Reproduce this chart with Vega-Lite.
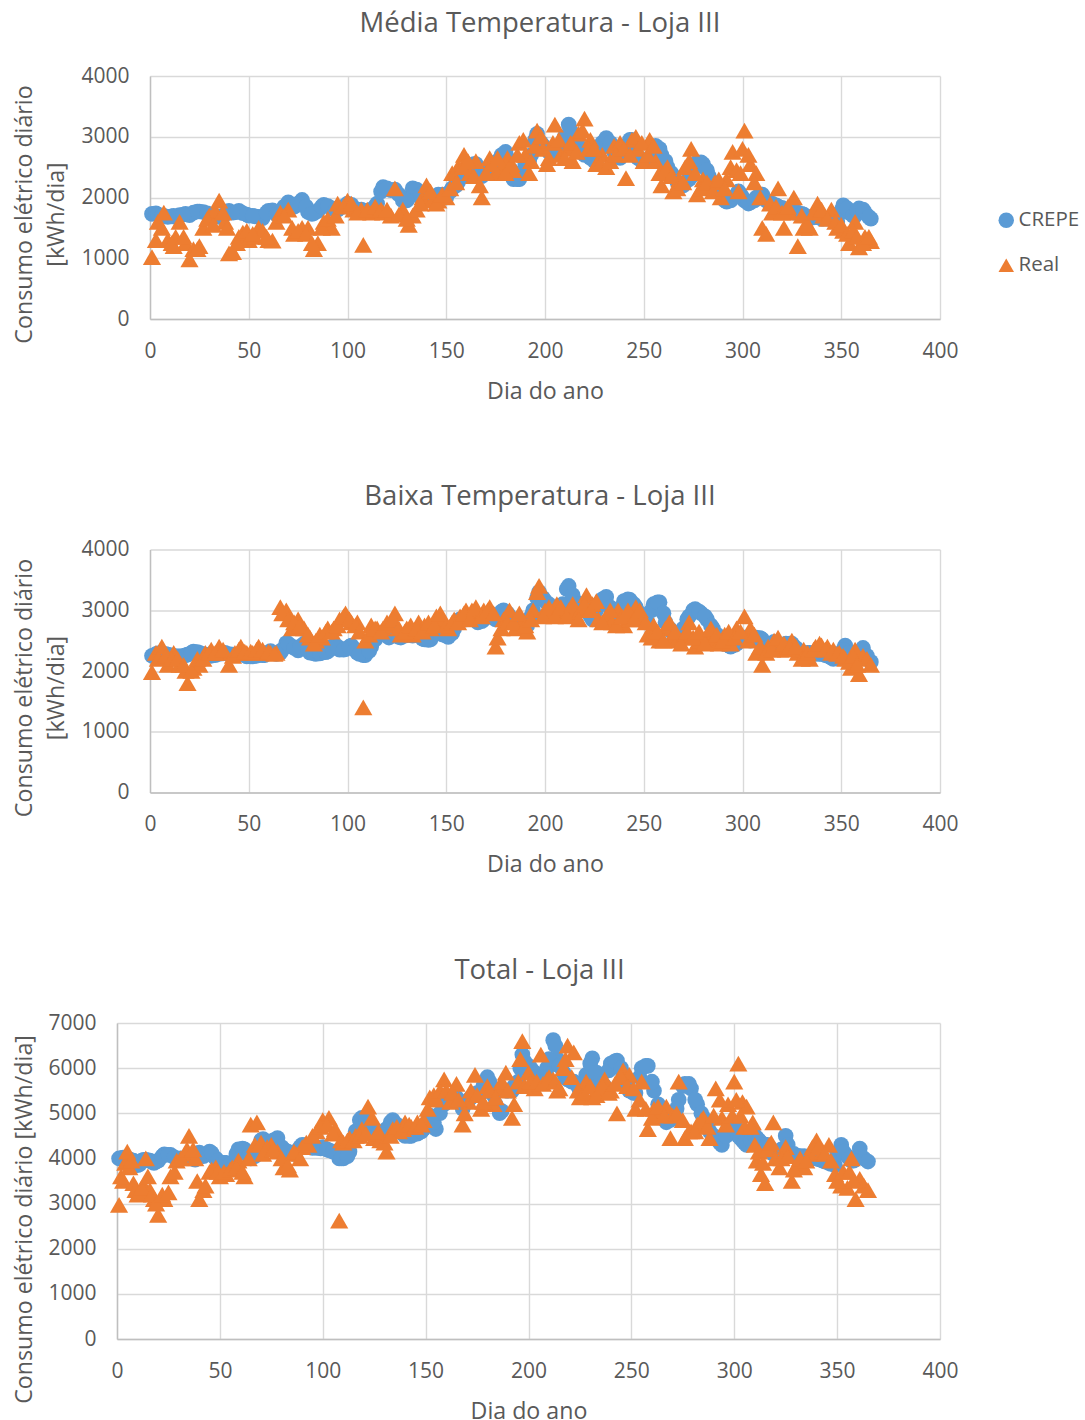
{"$schema":"https://vega.github.io/schema/vega-lite/v6.json","padding":{"left":11,"top":9,"right":0,"bottom":6},"background":"white","bounds":"flush","spacing":473.5,
"config":{"font":"Open Sans","view":{"stroke":null},"title":{"font":"Open Sans","fontSize":27.5,"fontWeight":"normal","color":"#595959"},
"axis":{"labelFont":"Open Sans","titleFont":"Open Sans","labelFontSize":21,"titleFontSize":23.2,"titleFontWeight":"normal","labelColor":"#595959","titleColor":"#595959","gridColor":"#D9D9D9","gridWidth":1.4,"domainColor":"#BFBFBF","domainWidth":1.4,"ticks":false,"labelPadding":21,"labelFlush":false,"format":"d"},
"legend":{"labelFont":"Open Sans","labelFontSize":20.5,"labelColor":"#595959","symbolStrokeWidth":0,"rowPadding":24,"labelOffset":2,"symbolSize":240}},
"datasets":{
"m":[{"d":1,"c":1730,"r":1020},{"d":3,"c":1740,"r":1300},{"d":4,"c":1720,"r":1600},{"d":7,"c":1700,"r":1750},{"d":9,"c":1680,"r":1300},{"d":12,"c":1700,"r":1200},{"d":13,"c":1680,"r":1350},{"d":15,"c":1710,"r":1600},{"d":18,"c":1730,"r":1250},{"d":20,"c":1710,"r":980},{"d":22,"c":1750,"r":1150},{"d":25,"c":1770,"r":1200},{"d":27,"c":1760,"r":1500},{"d":30,"c":1720,"r":1700},{"d":33,"c":1700,"r":1780},{"d":35,"c":1680,"r":1950},{"d":38,"c":1720,"r":1600},{"d":40,"c":1780,"r":1080},{"d":42,"c":1750,"r":1100},{"d":45,"c":1780,"r":1350},{"d":47,"c":1740,"r":1420},{"d":50,"c":1700,"r":1300},{"d":53,"c":1690,"r":1350},{"d":55,"c":1680,"r":1500},{"d":57,"c":1660,"r":1450},{"d":60,"c":1780,"r":1300},{"d":62,"c":1790,"r":1290},{"d":66,"c":1700,"r":1750},{"d":70,"c":1920,"r":1800},{"d":73,"c":1850,"r":1400},{"d":77,"c":1960,"r":1500},{"d":80,"c":1760,"r":1500},{"d":83,"c":1740,"r":1150},{"d":85,"c":1780,"r":1250},{"d":88,"c":1880,"r":1600},{"d":92,"c":1820,"r":1500},{"d":95,"c":1800,"r":1900},{"d":100,"c":1900,"r":1950},{"d":103,"c":1820,"r":1800},{"d":107,"c":1800,"r":1800},{"d":108,"c":1780,"r":1220},{"d":112,"c":1800,"r":1750},{"d":115,"c":1900,"r":1780},{"d":118,"c":2170,"r":1750},{"d":122,"c":2120,"r":1700},{"d":124,"c":2130,"r":2150},{"d":128,"c":1950,"r":1800},{"d":131,"c":2000,"r":1550},{"d":133,"c":2150,"r":1700},{"d":135,"c":2130,"r":1800},{"d":138,"c":1950,"r":2000},{"d":140,"c":1950,"r":2200},{"d":143,"c":1980,"r":1950},{"d":146,"c":2050,"r":1950},{"d":150,"c":2000,"r":2000},{"d":153,"c":2150,"r":2400},{"d":156,"c":2250,"r":2500},{"d":159,"c":2450,"r":2700},{"d":162,"c":2500,"r":2400},{"d":165,"c":2550,"r":2600},{"d":168,"c":2350,"r":2000},{"d":172,"c":2500,"r":2650},{"d":175,"c":2550,"r":2400},{"d":178,"c":2700,"r":2500},{"d":181,"c":2650,"r":2650},{"d":184,"c":2300,"r":2450},{"d":187,"c":2300,"r":2900},{"d":190,"c":2550,"r":2700},{"d":193,"c":2700,"r":2600},{"d":196,"c":3050,"r":3100},{"d":199,"c":2850,"r":2800},{"d":202,"c":2750,"r":2650},{"d":205,"c":2800,"r":3200},{"d":208,"c":2800,"r":2700},{"d":212,"c":3200,"r":2800},{"d":214,"c":2950,"r":2600},{"d":217,"c":2850,"r":3050},{"d":220,"c":2700,"r":3300},{"d":223,"c":2650,"r":2950},{"d":226,"c":2600,"r":2550},{"d":229,"c":2900,"r":2700},{"d":231,"c":2980,"r":2500},{"d":235,"c":2750,"r":2850},{"d":238,"c":2650,"r":2900},{"d":241,"c":2850,"r":2320},{"d":244,"c":2950,"r":2950},{"d":247,"c":2650,"r":2800},{"d":250,"c":2600,"r":2600},{"d":253,"c":2650,"r":2950},{"d":256,"c":2850,"r":2600},{"d":259,"c":2700,"r":2200},{"d":262,"c":2500,"r":2500},{"d":265,"c":2350,"r":2100},{"d":268,"c":2200,"r":2300},{"d":271,"c":2250,"r":2500},{"d":274,"c":2350,"r":2800},{"d":277,"c":2580,"r":2050},{"d":280,"c":2550,"r":2300},{"d":283,"c":2350,"r":2200},{"d":286,"c":2200,"r":2250},{"d":289,"c":2100,"r":2000},{"d":292,"c":1930,"r":2300},{"d":295,"c":2000,"r":2750},{"d":298,"c":2100,"r":2100},{"d":300,"c":2000,"r":2800},{"d":301,"c":1950,"r":3100},{"d":304,"c":1920,"r":2550},{"d":307,"c":2000,"r":2400},{"d":310,"c":2050,"r":1500},{"d":312,"c":1950,"r":1400},{"d":315,"c":1900,"r":1750},{"d":318,"c":1850,"r":2150},{"d":321,"c":1800,"r":1500},{"d":324,"c":1770,"r":1750},{"d":326,"c":1750,"r":2000},{"d":328,"c":1750,"r":1200},{"d":331,"c":1720,"r":1500},{"d":334,"c":1660,"r":1500},{"d":338,"c":1680,"r":1900},{"d":341,"c":1650,"r":1700},{"d":345,"c":1650,"r":1800},{"d":348,"c":1600,"r":1500},{"d":351,"c":1870,"r":1450},{"d":354,"c":1750,"r":1250},{"d":357,"c":1700,"r":1600},{"d":359,"c":1820,"r":1180},{"d":362,"c":1750,"r":1350},{"d":365,"c":1650,"r":1280},
{"d":6,"c":1700,"r":1500},{"d":11,"c":1690,"r":1250},{"d":17,"c":1720,"r":1350},{"d":24,"c":1770,"r":1150},{"d":29,"c":1740,"r":1650},{"d":32,"c":1700,"r":1550},{"d":37,"c":1700,"r":1750},{"d":39,"c":1750,"r":1500},{"d":44,"c":1760,"r":1250},{"d":49,"c":1720,"r":1450},{"d":52,"c":1700,"r":1400},{"d":59,"c":1750,"r":1350},{"d":64,"c":1720,"r":1600},{"d":68,"c":1850,"r":1700},{"d":72,"c":1880,"r":1500},{"d":75,"c":1900,"r":1450},{"d":79,"c":1850,"r":1400},{"d":82,"c":1730,"r":1250},{"d":87,"c":1850,"r":1500},{"d":90,"c":1860,"r":1650},{"d":94,"c":1800,"r":1700},{"d":98,"c":1850,"r":1850},{"d":102,"c":1880,"r":1900},{"d":105,"c":1800,"r":1750},{"d":110,"c":1780,"r":1800},{"d":114,"c":1850,"r":1850},{"d":117,"c":2100,"r":1800},{"d":120,"c":2150,"r":1800},{"d":126,"c":2050,"r":1720},{"d":130,"c":1950,"r":1650},{"d":137,"c":2050,"r":1900},{"d":142,"c":1950,"r":2100},{"d":145,"c":2000,"r":1900},{"d":148,"c":2050,"r":2050},{"d":152,"c":2100,"r":2150},{"d":155,"c":2200,"r":2250},{"d":158,"c":2350,"r":2500},{"d":161,"c":2480,"r":2600},{"d":164,"c":2550,"r":2350},{"d":167,"c":2450,"r":2200},{"d":170,"c":2400,"r":2400},{"d":173,"c":2500,"r":2550},{"d":176,"c":2600,"r":2650},{"d":180,"c":2750,"r":2400},{"d":183,"c":2450,"r":2550},{"d":186,"c":2300,"r":2700},{"d":189,"c":2400,"r":2950},{"d":192,"c":2600,"r":2400},{"d":195,"c":2950,"r":2850},{"d":198,"c":2900,"r":3000},{"d":201,"c":2800,"r":2550},{"d":204,"c":2750,"r":2900},{"d":207,"c":2800,"r":2950},{"d":210,"c":3000,"r":2650},{"d":213,"c":3100,"r":2900},{"d":216,"c":2900,"r":2750},{"d":219,"c":2750,"r":3100},{"d":222,"c":2700,"r":2800},{"d":225,"c":2600,"r":2800},{"d":228,"c":2800,"r":2550},{"d":233,"c":2900,"r":2600},{"d":236,"c":2700,"r":2700},{"d":240,"c":2800,"r":2800},{"d":243,"c":2950,"r":2700},{"d":246,"c":2750,"r":3000},{"d":249,"c":2600,"r":2900},{"d":252,"c":2600,"r":2700},{"d":255,"c":2800,"r":2850},{"d":258,"c":2800,"r":2400},{"d":261,"c":2600,"r":2450},{"d":264,"c":2400,"r":2350},{"d":267,"c":2250,"r":2150},{"d":270,"c":2200,"r":2250},{"d":273,"c":2300,"r":2600},{"d":276,"c":2500,"r":2400},{"d":279,"c":2580,"r":2150},{"d":282,"c":2450,"r":2250},{"d":285,"c":2250,"r":2100},{"d":288,"c":2150,"r":2300},{"d":291,"c":1950,"r":2150},{"d":294,"c":1950,"r":2500},{"d":297,"c":2050,"r":2450},{"d":299,"c":2050,"r":2400},{"d":303,"c":1900,"r":2700},{"d":306,"c":1950,"r":2250},{"d":309,"c":2050,"r":2000},{"d":314,"c":1900,"r":1900},{"d":317,"c":1870,"r":1850},{"d":320,"c":1830,"r":1750},{"d":323,"c":1780,"r":1850},{"d":330,"c":1730,"r":1700},{"d":333,"c":1680,"r":1550},{"d":336,"c":1670,"r":1750},{"d":340,"c":1650,"r":1800},{"d":343,"c":1650,"r":1650},{"d":347,"c":1620,"r":1600},{"d":350,"c":1780,"r":1550},{"d":353,"c":1820,"r":1400},{"d":356,"c":1700,"r":1450},{"d":358,"c":1780,"r":1350},{"d":361,"c":1800,"r":1250},{"d":364,"c":1680,"r":1350}],
"b":[{"d":1,"c":2250,"r":1980},{"d":3,"c":2280,"r":2300},{"d":6,"c":2300,"r":2400},{"d":9,"c":2270,"r":2100},{"d":12,"c":2250,"r":2300},{"d":15,"c":2240,"r":2100},{"d":18,"c":2260,"r":2000},{"d":19,"c":2270,"r":1800},{"d":22,"c":2320,"r":2050},{"d":25,"c":2300,"r":2100},{"d":28,"c":2270,"r":2300},{"d":31,"c":2250,"r":2350},{"d":35,"c":2280,"r":2400},{"d":38,"c":2300,"r":2300},{"d":40,"c":2280,"r":2100},{"d":43,"c":2260,"r":2300},{"d":46,"c":2280,"r":2400},{"d":49,"c":2240,"r":2300},{"d":52,"c":2240,"r":2300},{"d":55,"c":2260,"r":2400},{"d":58,"c":2260,"r":2300},{"d":61,"c":2330,"r":2300},{"d":64,"c":2280,"r":2300},{"d":66,"c":2300,"r":3050},{"d":69,"c":2460,"r":3000},{"d":72,"c":2400,"r":2700},{"d":75,"c":2340,"r":2850},{"d":78,"c":2450,"r":2700},{"d":81,"c":2300,"r":2550},{"d":84,"c":2280,"r":2500},{"d":87,"c":2300,"r":2550},{"d":90,"c":2320,"r":2700},{"d":93,"c":2420,"r":2700},{"d":96,"c":2350,"r":2850},{"d":99,"c":2360,"r":2950},{"d":102,"c":2420,"r":2800},{"d":105,"c":2300,"r":2800},{"d":108,"c":2260,"r":1400},{"d":109,"c":2260,"r":2500},{"d":112,"c":2400,"r":2750},{"d":115,"c":2600,"r":2700},{"d":118,"c":2620,"r":2700},{"d":121,"c":2550,"r":2750},{"d":124,"c":2600,"r":2950},{"d":127,"c":2550,"r":2600},{"d":130,"c":2600,"r":2700},{"d":133,"c":2580,"r":2600},{"d":136,"c":2600,"r":2800},{"d":139,"c":2520,"r":2750},{"d":142,"c":2520,"r":2700},{"d":145,"c":2650,"r":2900},{"d":148,"c":2600,"r":2800},{"d":151,"c":2560,"r":2700},{"d":154,"c":2700,"r":2850},{"d":157,"c":2850,"r":2900},{"d":160,"c":2850,"r":3000},{"d":163,"c":2900,"r":3000},{"d":166,"c":2800,"r":2950},{"d":169,"c":2850,"r":3000},{"d":172,"c":2950,"r":3050},{"d":175,"c":2850,"r":2400},{"d":176,"c":2900,"r":2550},{"d":179,"c":3000,"r":2850},{"d":182,"c":2900,"r":3000},{"d":185,"c":2800,"r":2700},{"d":188,"c":2800,"r":2800},{"d":191,"c":2750,"r":2650},{"d":194,"c":3000,"r":3000},{"d":197,"c":3300,"r":3400},{"d":200,"c":3150,"r":3000},{"d":203,"c":3050,"r":2950},{"d":206,"c":2950,"r":3100},{"d":209,"c":3100,"r":2950},{"d":212,"c":3400,"r":3000},{"d":215,"c":3150,"r":2950},{"d":218,"c":3100,"r":3000},{"d":221,"c":3000,"r":3250},{"d":224,"c":2850,"r":3100},{"d":227,"c":3100,"r":2850},{"d":231,"c":3220,"r":2900},{"d":234,"c":2950,"r":2800},{"d":237,"c":2900,"r":3000},{"d":240,"c":3150,"r":2750},{"d":243,"c":3170,"r":2850},{"d":246,"c":3050,"r":3050},{"d":249,"c":2850,"r":2900},{"d":252,"c":2800,"r":2600},{"d":255,"c":3100,"r":2750},{"d":258,"c":3130,"r":2500},{"d":261,"c":2800,"r":2700},{"d":264,"c":2650,"r":2550},{"d":267,"c":2550,"r":2500},{"d":270,"c":2700,"r":2550},{"d":273,"c":2900,"r":2800},{"d":276,"c":3020,"r":2400},{"d":279,"c":2950,"r":2500},{"d":282,"c":2850,"r":2600},{"d":285,"c":2700,"r":2500},{"d":288,"c":2500,"r":2450},{"d":291,"c":2450,"r":2600},{"d":294,"c":2400,"r":2450},{"d":297,"c":2450,"r":2700},{"d":301,"c":2550,"r":2900},{"d":304,"c":2500,"r":2700},{"d":307,"c":2550,"r":2300},{"d":310,"c":2520,"r":2100},{"d":313,"c":2400,"r":2400},{"d":316,"c":2480,"r":2500},{"d":319,"c":2400,"r":2350},{"d":322,"c":2450,"r":2350},{"d":325,"c":2450,"r":2500},{"d":328,"c":2350,"r":2300},{"d":331,"c":2300,"r":2350},{"d":334,"c":2300,"r":2200},{"d":337,"c":2280,"r":2400},{"d":340,"c":2280,"r":2420},{"d":343,"c":2250,"r":2400},{"d":346,"c":2200,"r":2350},{"d":349,"c":2250,"r":2300},{"d":352,"c":2420,"r":2200},{"d":355,"c":2250,"r":2050},{"d":357,"c":2200,"r":2350},{"d":359,"c":2300,"r":1950},{"d":361,"c":2380,"r":2250},{"d":363,"c":2250,"r":2200},{"d":365,"c":2150,"r":2100},
{"d":4,"c":2290,"r":2200},{"d":8,"c":2280,"r":2250},{"d":11,"c":2260,"r":2200},{"d":14,"c":2240,"r":2200},{"d":17,"c":2250,"r":2100},{"d":21,"c":2300,"r":2000},{"d":24,"c":2310,"r":2200},{"d":27,"c":2280,"r":2200},{"d":30,"c":2260,"r":2300},{"d":33,"c":2260,"r":2300},{"d":37,"c":2290,"r":2350},{"d":42,"c":2270,"r":2250},{"d":45,"c":2270,"r":2350},{"d":48,"c":2260,"r":2320},{"d":51,"c":2240,"r":2320},{"d":54,"c":2250,"r":2350},{"d":57,"c":2260,"r":2350},{"d":60,"c":2300,"r":2320},{"d":63,"c":2300,"r":2280},{"d":67,"c":2350,"r":2950},{"d":70,"c":2450,"r":2850},{"d":73,"c":2380,"r":2800},{"d":76,"c":2400,"r":2750},{"d":80,"c":2350,"r":2600},{"d":83,"c":2290,"r":2450},{"d":86,"c":2290,"r":2600},{"d":89,"c":2310,"r":2650},{"d":92,"c":2380,"r":2650},{"d":95,"c":2400,"r":2750},{"d":98,"c":2350,"r":2900},{"d":101,"c":2400,"r":2850},{"d":104,"c":2350,"r":2750},{"d":106,"c":2280,"r":2650},{"d":111,"c":2330,"r":2600},{"d":114,"c":2520,"r":2700},{"d":117,"c":2620,"r":2650},{"d":120,"c":2580,"r":2800},{"d":123,"c":2580,"r":2850},{"d":126,"c":2560,"r":2700},{"d":129,"c":2580,"r":2650},{"d":132,"c":2590,"r":2750},{"d":135,"c":2590,"r":2700},{"d":138,"c":2530,"r":2650},{"d":141,"c":2510,"r":2800},{"d":144,"c":2600,"r":2750},{"d":147,"c":2630,"r":2950},{"d":150,"c":2580,"r":2750},{"d":153,"c":2620,"r":2800},{"d":156,"c":2800,"r":2800},{"d":159,"c":2850,"r":2950},{"d":162,"c":2880,"r":2850},{"d":165,"c":2850,"r":3050},{"d":168,"c":2820,"r":2900},{"d":171,"c":2900,"r":3000},{"d":174,"c":2880,"r":2950},{"d":178,"c":2980,"r":2700},{"d":181,"c":2950,"r":2800},{"d":184,"c":2850,"r":2800},{"d":187,"c":2780,"r":2950},{"d":190,"c":2780,"r":2750},{"d":193,"c":2900,"r":2850},{"d":196,"c":3200,"r":3300},{"d":199,"c":3200,"r":2900},{"d":202,"c":3100,"r":3050},{"d":205,"c":3000,"r":2900},{"d":208,"c":3050,"r":3050},{"d":211,"c":3350,"r":2900},{"d":214,"c":3250,"r":3100},{"d":217,"c":3100,"r":2850},{"d":220,"c":3050,"r":3100},{"d":223,"c":2900,"r":3000},{"d":226,"c":3000,"r":3150},{"d":229,"c":3180,"r":2800},{"d":233,"c":3050,"r":3000},{"d":236,"c":2900,"r":2750},{"d":239,"c":3050,"r":2900},{"d":242,"c":3180,"r":3000},{"d":245,"c":3100,"r":2850},{"d":248,"c":2950,"r":3000},{"d":251,"c":2800,"r":2800},{"d":254,"c":3000,"r":2550},{"d":257,"c":3130,"r":2650},{"d":260,"c":2950,"r":2500},{"d":263,"c":2700,"r":2800},{"d":266,"c":2600,"r":2650},{"d":269,"c":2600,"r":2450},{"d":272,"c":2850,"r":2650},{"d":275,"c":3000,"r":2550},{"d":278,"c":2980,"r":2650},{"d":281,"c":2900,"r":2450},{"d":284,"c":2750,"r":2700},{"d":287,"c":2600,"r":2600},{"d":290,"c":2450,"r":2500},{"d":293,"c":2420,"r":2650},{"d":296,"c":2430,"r":2550},{"d":299,"c":2500,"r":2650},{"d":303,"c":2520,"r":2500},{"d":306,"c":2530,"r":2600},{"d":309,"c":2540,"r":2400},{"d":312,"c":2450,"r":2300},{"d":315,"c":2450,"r":2350},{"d":318,"c":2430,"r":2550},{"d":321,"c":2420,"r":2450},{"d":324,"c":2450,"r":2400},{"d":327,"c":2380,"r":2400},{"d":330,"c":2300,"r":2200},{"d":333,"c":2300,"r":2300},{"d":336,"c":2290,"r":2350},{"d":339,"c":2280,"r":2450},{"d":342,"c":2260,"r":2350},{"d":345,"c":2220,"r":2300},{"d":348,"c":2230,"r":2280},{"d":351,"c":2350,"r":2250},{"d":354,"c":2300,"r":2150},{"d":356,"c":2220,"r":2250},{"d":358,"c":2250,"r":2100}],
"t":[{"d":1,"c":4000,"r":2970},{"d":3,"c":4020,"r":3500},{"d":4,"c":3980,"r":3900},{"d":5,"c":4000,"r":4150},{"d":8,"c":3950,"r":3450},{"d":10,"c":3850,"r":3200},{"d":13,"c":3970,"r":3400},{"d":14,"c":3970,"r":4000},{"d":16,"c":3950,"r":3300},{"d":18,"c":3900,"r":3100},{"d":20,"c":3950,"r":2750},{"d":23,"c":4090,"r":3100},{"d":26,"c":4080,"r":3600},{"d":29,"c":4000,"r":3950},{"d":33,"c":4000,"r":4100},{"d":35,"c":4030,"r":4500},{"d":38,"c":3970,"r":4000},{"d":40,"c":4130,"r":3100},{"d":42,"c":4050,"r":3300},{"d":45,"c":4150,"r":3700},{"d":48,"c":4000,"r":3800},{"d":50,"c":3900,"r":3600},{"d":53,"c":3900,"r":3650},{"d":56,"c":3850,"r":3800},{"d":59,"c":4200,"r":3950},{"d":62,"c":4200,"r":3600},{"d":65,"c":4000,"r":4750},{"d":68,"c":4100,"r":4800},{"d":71,"c":4430,"r":4100},{"d":75,"c":4300,"r":4300},{"d":78,"c":4450,"r":4150},{"d":81,"c":4200,"r":3800},{"d":84,"c":4130,"r":3750},{"d":87,"c":4150,"r":4100},{"d":90,"c":4300,"r":4250},{"d":93,"c":4250,"r":4300},{"d":97,"c":4230,"r":4600},{"d":100,"c":4250,"r":4850},{"d":103,"c":4180,"r":4900},{"d":106,"c":4150,"r":4650},{"d":108,"c":4000,"r":2620},{"d":110,"c":4000,"r":4350},{"d":113,"c":4150,"r":4450},{"d":116,"c":4600,"r":4500},{"d":119,"c":4900,"r":4650},{"d":122,"c":4850,"r":5150},{"d":125,"c":4600,"r":4450},{"d":128,"c":4550,"r":4400},{"d":131,"c":4650,"r":4150},{"d":134,"c":4850,"r":4650},{"d":137,"c":4650,"r":4600},{"d":140,"c":4500,"r":4800},{"d":143,"c":4500,"r":4700},{"d":146,"c":4550,"r":4800},{"d":149,"c":4650,"r":4850},{"d":152,"c":4950,"r":5350},{"d":155,"c":4650,"r":5300},{"d":159,"c":5200,"r":5750},{"d":162,"c":5300,"r":5250},{"d":165,"c":5350,"r":5650},{"d":168,"c":5100,"r":4750},{"d":171,"c":5300,"r":5250},{"d":174,"c":5400,"r":5850},{"d":177,"c":5450,"r":5100},{"d":180,"c":5800,"r":5600},{"d":183,"c":5400,"r":5200},{"d":186,"c":5000,"r":5550},{"d":189,"c":5500,"r":5900},{"d":192,"c":5500,"r":4900},{"d":195,"c":5700,"r":5700},{"d":197,"c":6300,"r":6600},{"d":200,"c":6050,"r":5900},{"d":203,"c":5900,"r":5550},{"d":206,"c":5700,"r":6300},{"d":209,"c":6000,"r":5750},{"d":212,"c":6620,"r":5750},{"d":214,"c":6200,"r":5500},{"d":217,"c":5900,"r":6000},{"d":219,"c":5750,"r":6500},{"d":222,"c":5700,"r":6350},{"d":225,"c":5500,"r":5350},{"d":228,"c":5850,"r":5700},{"d":231,"c":6220,"r":5350},{"d":234,"c":5700,"r":5500},{"d":237,"c":5600,"r":5750},{"d":240,"c":6100,"r":5500},{"d":243,"c":6170,"r":5000},{"d":246,"c":5850,"r":5950},{"d":249,"c":5500,"r":5850},{"d":252,"c":5450,"r":5100},{"d":255,"c":6000,"r":5700},{"d":258,"c":6050,"r":4650},{"d":261,"c":5500,"r":5100},{"d":264,"c":5100,"r":5000},{"d":267,"c":4800,"r":5150},{"d":270,"c":4900,"r":4950},{"d":273,"c":5300,"r":5700},{"d":276,"c":5650,"r":4450},{"d":279,"c":5550,"r":4600},{"d":282,"c":5200,"r":4750},{"d":285,"c":4900,"r":4900},{"d":288,"c":4600,"r":4450},{"d":291,"c":4450,"r":5550},{"d":294,"c":4300,"r":4900},{"d":297,"c":4650,"r":5200},{"d":300,"c":4750,"r":5700},{"d":302,"c":4500,"r":6100},{"d":304,"c":4400,"r":5250},{"d":306,"c":4300,"r":5150},{"d":309,"c":4500,"r":4800},{"d":311,"c":4450,"r":3950},{"d":313,"c":4350,"r":3650},{"d":315,"c":4300,"r":3450},{"d":317,"c":4250,"r":4300},{"d":319,"c":4100,"r":4800},{"d":322,"c":4100,"r":3800},{"d":325,"c":4500,"r":4250},{"d":328,"c":4100,"r":3500},{"d":331,"c":4050,"r":3900},{"d":334,"c":4050,"r":3800},{"d":337,"c":4000,"r":4100},{"d":340,"c":4000,"r":4400},{"d":343,"c":3950,"r":4150},{"d":346,"c":3900,"r":4300},{"d":349,"c":3850,"r":3650},{"d":352,"c":4300,"r":3400},{"d":355,"c":4050,"r":3350},{"d":357,"c":3950,"r":4000},{"d":359,"c":4000,"r":3100},{"d":361,"c":4220,"r":3550},{"d":363,"c":4000,"r":3400},{"d":365,"c":3930,"r":3300},
{"d":2,"c":4000,"r":3600},{"d":6,"c":3980,"r":3800},{"d":7,"c":3960,"r":3950},{"d":9,"c":3900,"r":3300},{"d":11,"c":3870,"r":3250},{"d":12,"c":3950,"r":3350},{"d":15,"c":3960,"r":3600},{"d":17,"c":3920,"r":3200},{"d":19,"c":3930,"r":3000},{"d":22,"c":4050,"r":3200},{"d":25,"c":4080,"r":3250},{"d":28,"c":4020,"r":3700},{"d":31,"c":4000,"r":4000},{"d":34,"c":4020,"r":4200},{"d":37,"c":3990,"r":4200},{"d":39,"c":4100,"r":3500},{"d":43,"c":4080,"r":3400},{"d":46,"c":4120,"r":3750},{"d":49,"c":3950,"r":3700},{"d":52,"c":3900,"r":3700},{"d":55,"c":3870,"r":3750},{"d":58,"c":4100,"r":3800},{"d":61,"c":4220,"r":3700},{"d":64,"c":4050,"r":4000},{"d":67,"c":4050,"r":4300},{"d":70,"c":4400,"r":4350},{"d":73,"c":4350,"r":4250},{"d":76,"c":4400,"r":4200},{"d":80,"c":4250,"r":4000},{"d":83,"c":4150,"r":3850},{"d":86,"c":4100,"r":4150},{"d":89,"c":4250,"r":4000},{"d":92,"c":4300,"r":4350},{"d":95,"c":4230,"r":4500},{"d":99,"c":4220,"r":4700},{"d":102,"c":4200,"r":4750},{"d":105,"c":4150,"r":4550},{"d":109,"c":4000,"r":4400},{"d":112,"c":4050,"r":4400},{"d":115,"c":4450,"r":4400},{"d":118,"c":4850,"r":4500},{"d":121,"c":4850,"r":4550},{"d":124,"c":4700,"r":4900},{"d":127,"c":4550,"r":4600},{"d":130,"c":4600,"r":4350},{"d":133,"c":4800,"r":4500},{"d":136,"c":4750,"r":4700},{"d":139,"c":4550,"r":4650},{"d":142,"c":4500,"r":4750},{"d":145,"c":4550,"r":4700},{"d":148,"c":4600,"r":4750},{"d":151,"c":4800,"r":5100},{"d":154,"c":4800,"r":5400},{"d":157,"c":5000,"r":5500},{"d":160,"c":5250,"r":5500},{"d":163,"c":5300,"r":5450},{"d":166,"c":5250,"r":5300},{"d":169,"c":5200,"r":5000},{"d":172,"c":5350,"r":5500},{"d":175,"c":5450,"r":5400},{"d":178,"c":5600,"r":5250},{"d":181,"c":5700,"r":5500},{"d":184,"c":5200,"r":5350},{"d":187,"c":5050,"r":5700},{"d":190,"c":5500,"r":5500},{"d":193,"c":5600,"r":5200},{"d":196,"c":6000,"r":6200},{"d":198,"c":6150,"r":5600},{"d":201,"c":6000,"r":5700},{"d":204,"c":5800,"r":5700},{"d":207,"c":5800,"r":5650},{"d":210,"c":6200,"r":5800},{"d":213,"c":6500,"r":5700},{"d":215,"c":6050,"r":5550},{"d":218,"c":5800,"r":6200},{"d":221,"c":5700,"r":5800},{"d":224,"c":5600,"r":5500},{"d":227,"c":5700,"r":5450},{"d":230,"c":6100,"r":5600},{"d":233,"c":5900,"r":5400},{"d":236,"c":5650,"r":5600},{"d":239,"c":5950,"r":5450},{"d":242,"c":6150,"r":5650},{"d":245,"c":6000,"r":5800},{"d":248,"c":5650,"r":5600},{"d":251,"c":5450,"r":5550},{"d":254,"c":5800,"r":5300},{"d":257,"c":6050,"r":5100},{"d":260,"c":5700,"r":4900},{"d":263,"c":5200,"r":5150},{"d":266,"c":4900,"r":4950},{"d":269,"c":4850,"r":4450},{"d":272,"c":5100,"r":5000},{"d":275,"c":5600,"r":4850},{"d":278,"c":5650,"r":4600},{"d":281,"c":5300,"r":4600},{"d":284,"c":5000,"r":4850},{"d":287,"c":4700,"r":4700},{"d":290,"c":4500,"r":4950},{"d":293,"c":4350,"r":5300},{"d":296,"c":4500,"r":4750},{"d":299,"c":4700,"r":4950},{"d":301,"c":4600,"r":5300},{"d":303,"c":4450,"r":4950},{"d":305,"c":4350,"r":4700},{"d":308,"c":4400,"r":4700},{"d":310,"c":4500,"r":4300},{"d":312,"c":4400,"r":4150},{"d":314,"c":4300,"r":3900},{"d":316,"c":4300,"r":4200},{"d":318,"c":4150,"r":4350},{"d":320,"c":4100,"r":4000},{"d":323,"c":4200,"r":4000},{"d":326,"c":4300,"r":4050},{"d":329,"c":4100,"r":3750},{"d":332,"c":4050,"r":4000},{"d":335,"c":4030,"r":3950},{"d":338,"c":4000,"r":4250},{"d":341,"c":3980,"r":4250},{"d":344,"c":3930,"r":4100},{"d":347,"c":3880,"r":3950},{"d":350,"c":4100,"r":3500},{"d":353,"c":4150,"r":3700},{"d":356,"c":4000,"r":3700},{"d":358,"c":3950,"r":3500}]},
"vconcat":[
{"bounds":"flush","spacing":0,"hconcat":[
{"width":33,"height":243,"data":{"name":"m"},"mark":{"type":"point","opacity":0},"encoding":{}},
{"width":790,"height":243,"title":{"text":"Média Temperatura - Loja III","dx":-5,"offset":28},"data":{"name":"m"},
"encoding":{"x":{"field":"d","type":"quantitative","scale":{"domain":[0,400]},"axis":{"title":"Dia do ano","values":[0,50,100,150,200,250,300,350,400],"titlePadding":19}}},
"layer":[
{"mark":{"type":"point","filled":true,"opacity":1},"encoding":{"y":{"field":"c","type":"quantitative","scale":{"domain":[0,4000]},"axis":{"title":["Consumo elétrico diário","[kWh/dia]"],"values":[0,1000,2000,3000,4000],"titleX":-114,"titleY":138,"titleLineHeight":32}},"color":{"datum":"CREPE","scale":{"domain":["CREPE","Real"],"range":["#5B9BD5","#ED7D31"]},"legend":{"title":null,"orient":"none","legendX":879,"legendY":134}},"shape":{"datum":"CREPE","scale":{"domain":["CREPE","Real"],"range":["circle","triangle-up"]},"legend":null},"size":{"value":245}}},
{"mark":{"type":"point","filled":true,"opacity":1},"encoding":{"y":{"field":"r","type":"quantitative"},"color":{"datum":"Real"},"shape":{"datum":"Real"},"size":{"value":330}}}
]}]},
{"bounds":"flush","spacing":0,"hconcat":[
{"width":33,"height":243,"data":{"name":"b"},"mark":{"type":"point","opacity":0},"encoding":{}},
{"width":790,"height":243,"title":{"text":"Baixa Temperatura - Loja III","dx":-5,"offset":28},"data":{"name":"b"},
"encoding":{"x":{"field":"d","type":"quantitative","scale":{"domain":[0,400]},"axis":{"title":"Dia do ano","values":[0,50,100,150,200,250,300,350,400],"titlePadding":19}}},
"layer":[
{"mark":{"type":"point","filled":true,"opacity":1},"encoding":{"y":{"field":"c","type":"quantitative","scale":{"domain":[0,4000]},"axis":{"title":["Consumo elétrico diário","[kWh/dia]"],"values":[0,1000,2000,3000,4000],"titleX":-114,"titleY":138,"titleLineHeight":32}},"color":{"datum":"CREPE","scale":{"domain":["CREPE","Real"],"range":["#5B9BD5","#ED7D31"]},"legend":{"title":null,"orient":"none","legendX":879,"legendY":134}},"shape":{"datum":"CREPE","scale":{"domain":["CREPE","Real"],"range":["circle","triangle-up"]},"legend":null},"size":{"value":245}}},
{"mark":{"type":"point","filled":true,"opacity":1},"encoding":{"y":{"field":"r","type":"quantitative"},"color":{"datum":"Real"},"shape":{"datum":"Real"},"size":{"value":330}}}
]}]},
{"width":823,"height":316,"title":{"text":"Total - Loja III","dx":11,"offset":28},"data":{"name":"t"},
"encoding":{"x":{"field":"d","type":"quantitative","scale":{"domain":[0,400]},"axis":{"title":"Dia do ano","values":[0,50,100,150,200,250,300,350,400],"titlePadding":19}}},
"layer":[
{"mark":{"type":"point","filled":true,"opacity":1},"encoding":{"y":{"field":"c","type":"quantitative","scale":{"domain":[0,7000]},"axis":{"title":"Consumo elétrico diário [kWh/dia]","values":[0,1000,2000,3000,4000,5000,6000,7000],"titleX":-81,"titleY":196}},"color":{"datum":"CREPE","scale":{"domain":["CREPE","Real"],"range":["#5B9BD5","#ED7D31"]},"legend":{"title":null,"orient":"none","legendX":912,"legendY":171}},"shape":{"datum":"CREPE","scale":{"domain":["CREPE","Real"],"range":["circle","triangle-up"]},"legend":null},"size":{"value":245}}},
{"mark":{"type":"point","filled":true,"opacity":1},"encoding":{"y":{"field":"r","type":"quantitative"},"color":{"datum":"Real"},"shape":{"datum":"Real"},"size":{"value":330}}}
]}
]}
